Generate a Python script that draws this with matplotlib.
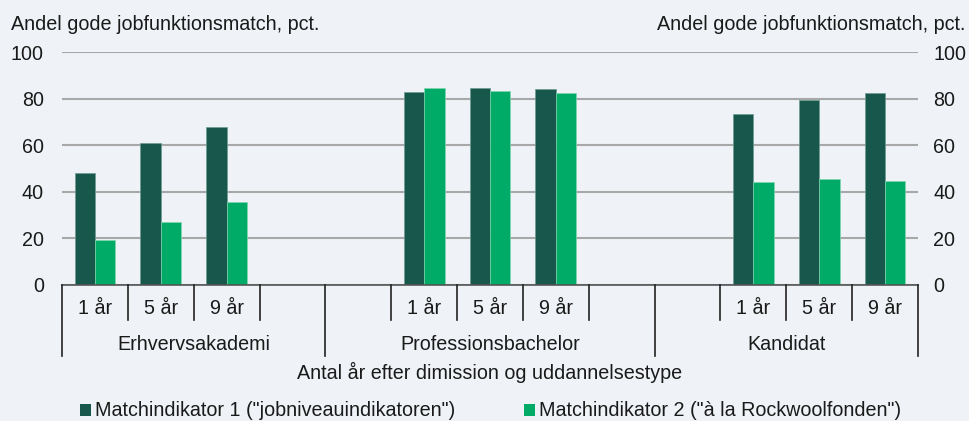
import numpy as np
import matplotlib
matplotlib.use("Agg")
import matplotlib.pyplot as plt
from matplotlib.patches import Patch
from matplotlib.transforms import blended_transform_factory

plt.rcParams["font.family"] = ["Liberation Sans", "DejaVu Sans"]

# ---- data -------------------------------------------------------------
groups = ["Erhvervsakademi", "Professionsbachelor", "Kandidat"]
group_sizes = [4, 5, 4]
slot_labels = ["1 år", "5 år", "9 år", "",
               "", "1 år", "5 år", "9 år", "",
               "", "1 år", "5 år", "9 år"]
nan = np.nan
match1 = [48.0, 61.0, 67.7, nan,
          nan, 82.7, 84.5, 84.1, nan,
          nan, 73.3, 79.2, 82.4]
match2 = [19.0, 27.0, 35.4, nan,
          nan, 84.6, 83.1, 82.2, nan,
          nan, 44.2, 45.4, 44.7]
series_names = ['Matchindikator 1 ("jobniveauindikatoren")',
                'Matchindikator 2 ("à la Rockwoolfonden")']
yticks = [0, 20, 40, 60, 80, 100]
y_title = "Andel gode jobfunktionsmatch, pct."
x_title = "Antal år efter dimission og uddannelsestype"

# ---- style ------------------------------------------------------------
BG = "#EFF3F7"
DARK = "#17574C"
LIGHT = "#00AB67"
GRID = "#A8A8A8"
TXT = "#1a1a1a"
FS = 14.2

W, H = 969, 421
fig = plt.figure(figsize=(W / 100, H / 100), dpi=100, facecolor=BG)
ax = fig.add_axes([62 / W, 1 - 284.5 / H, (918 - 62) / W, (284.5 - 52) / H])
ax.set_facecolor(BG)

n = len(slot_labels)
x = np.arange(n) + 0.5
bw = 0.31
ax.bar(x - bw / 2, match1, width=bw, color=DARK, zorder=3,
       edgecolor="#6F9A92", linewidth=0.5, label=series_names[0])
ax.bar(x + bw / 2, match2, width=bw, color=LIGHT, zorder=3,
       edgecolor="#7FD6AE", linewidth=0.5, label=series_names[1])

ax.set_xlim(0, n)
ax.set_ylim(0, 100)
ax.set_yticks(yticks)
ax.yaxis.grid(True, color=GRID, linewidth=1.5, zorder=0)
ax.set_axisbelow(True)
for s in ["top", "left", "right"]:
    ax.spines[s].set_visible(False)
ax.spines["bottom"].set_color("#555555")
ax.spines["bottom"].set_linewidth(1.2)
ax.spines["bottom"].set_zorder(4)
ax.tick_params(axis="y", length=0, labelsize=FS, pad=13, labelcolor=TXT)
ax.set_xticks([])

# duplicate value scale on the right
sec = ax.secondary_yaxis("right")
sec.set_yticks(yticks)
sec.spines["right"].set_visible(False)
sec.tick_params(axis="y", length=0, labelsize=FS, pad=11, labelcolor=TXT)

# ---- category axis: slot labels, separators, group labels -------------
tr = blended_transform_factory(ax.transData, fig.transFigure)


def fy(py):
    return 1 - py / H


group_edges = np.concatenate([[0], np.cumsum(group_sizes)])
for i in range(n + 1):
    long = i in group_edges
    y_end = 355.5 if long else 320
    ax.plot([i, i], [fy(285), fy(y_end)], transform=tr, color="#222222",
            linewidth=1.2, clip_on=False, zorder=5)

for xi, lab in zip(x, slot_labels):
    if lab:
        fig.text(xi, fy(308), lab, transform=tr, ha="center", va="center",
                 fontsize=FS, color=TXT)

for g, (a, b) in zip(groups, zip(group_edges[:-1], group_edges[1:])):
    fig.text((a + b) / 2, fy(344.5), g, transform=tr, ha="center",
             va="center", fontsize=FS, color=TXT)

fig.text(490 / W, fy(372), x_title, ha="center", va="center",
         fontsize=FS, color=TXT)
fig.text(11 / W, fy(24), y_title, ha="left", va="center",
         fontsize=FS, color=TXT)
fig.text(965 / W, fy(24), y_title, ha="right", va="center",
         fontsize=FS, color=TXT)

# ---- legend -----------------------------------------------------------
handles = [Patch(facecolor=DARK, edgecolor="none"),
           Patch(facecolor=LIGHT, edgecolor="none")]
leg = fig.legend(handles, series_names, loc="center",
                 bbox_to_anchor=(490.5 / W, fy(411)), ncol=2, frameon=False,
                 fontsize=FS, handlelength=0.56, handleheight=0.56,
                 handletextpad=0.2, columnspacing=3.45, borderaxespad=0,
                 borderpad=0)
for t in leg.get_texts():
    t.set_color(TXT)

fig.savefig("out.png", dpi=100, facecolor=BG)
